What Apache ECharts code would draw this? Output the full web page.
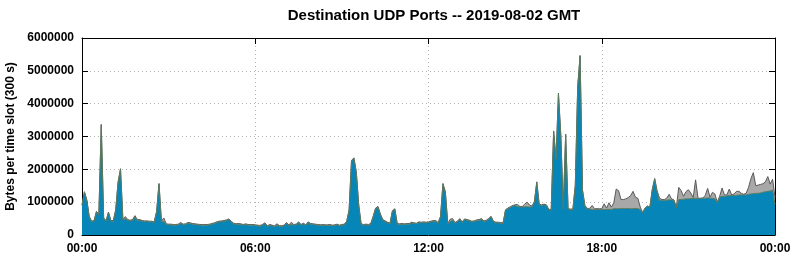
<!DOCTYPE html>
<html>
<head>
<meta charset="utf-8">
<script src="https://cdn.jsdelivr.net/npm/echarts@6/dist/echarts.min.js"></script>
<style>html,body{margin:0;padding:0;background:#fff}#c{width:795px;height:260px}</style>
</head>
<body>
<div id="c"></div>
<script>
// values in millions of bytes per 5-minute slot, slot i = i*5 minutes after 00:00
const SCALE = 1000000;
const slotMinutes = 5;
const xTicks = ['00:00', '06:00', '12:00', '18:00', '00:00'];
const yTicks = [0, 1000000, 2000000, 3000000, 4000000, 5000000, 6000000];

const mainPort = [
  0.90,1.30,1.05,0.55,0.40,0.42,0.70,0.60,3.35,0.50,0.42,0.68,0.42,
  0.42,0.75,1.60,2.00,0.45,0.50,0.45,0.43,0.45,0.55,0.45,0.45,
  0.42,0.41,0.41,0.40,0.40,0.38,0.70,1.55,0.40,0.42,0.32,0.31,
  0.31,0.30,0.30,0.31,0.36,0.31,0.32,0.36,0.35,0.33,0.32,0.31,
  0.30,0.30,0.30,0.30,0.31,0.33,0.35,0.38,0.40,0.41,0.42,0.44,
  0.47,0.40,0.34,0.32,0.33,0.32,0.30,0.32,0.30,0.30,0.30,0.29,
  0.28,0.27,0.30,0.35,0.26,0.30,0.28,0.26,0.30,0.27,0.26,0.28,
  0.36,0.28,0.33,0.30,0.31,0.38,0.30,0.34,0.29,0.38,0.33,0.32,
  0.31,0.30,0.29,0.30,0.29,0.29,0.30,0.28,0.29,0.31,0.28,0.30,
  0.31,0.40,0.75,2.25,2.33,1.90,0.90,0.32,0.30,0.31,0.30,0.33,
  0.55,0.80,0.85,0.62,0.45,0.41,0.37,0.34,0.72,0.78,0.33,0.32,
  0.33,0.32,0.33,0.33,0.37,0.35,0.34,0.38,0.37,0.38,0.37,0.38,
  0.40,0.42,0.42,0.36,0.55,1.55,1.30,0.33,0.42,0.44,0.36,0.40,
  0.48,0.38,0.47,0.45,0.43,0.40,0.41,0.44,0.43,0.48,0.41,0.43,
  0.48,0.55,0.40,0.37,0.37,0.36,0.35,0.75,0.80,0.84,0.88,0.90,
  0.87,0.85,0.85,0.86,0.86,0.85,0.86,1.00,1.60,0.92,0.90,0.92,
  0.90,0.76,0.76,3.15,2.30,4.30,3.00,0.78,3.05,0.78,0.77,0.77,
  1.50,4.50,5.45,1.35,0.88,0.79,0.79,0.77,0.77,0.78,0.78,0.78,
  0.77,0.78,0.78,0.78,0.80,0.80,0.80,0.80,0.81,0.80,0.81,0.80,
  0.80,0.81,0.80,0.78,0.68,0.82,0.88,0.85,1.37,1.70,1.30,1.05,
  1.06,1.06,1.06,1.07,1.07,1.05,0.82,1.08,1.08,1.09,1.10,1.10,
  1.11,1.11,1.12,1.10,1.11,1.12,1.12,1.13,1.12,1.12,1.10,0.98,
  1.15,1.18,1.18,1.19,1.20,1.20,1.20,1.21,1.22,1.22,1.22,1.22,
  1.24,1.25,1.26,1.27,1.27,1.28,1.30,1.32,1.33,1.34,1.37,0.93
];

const otherPorts = [
  0.02,0.02,0.02,0.02,0.02,0.02,0.02,0.02,0.02,0.02,0.02,0.02,0.02,
  0.02,0.02,0.02,0.02,0.02,0.06,0.02,0.02,0.02,0.04,0.02,0.02,
  0.02,0.02,0.02,0.02,0.02,0.02,0.02,0.02,0.02,0.10,0.02,0.02,
  0.02,0.02,0.02,0.02,0.02,0.02,0.02,0.02,0.02,0.02,0.02,0.02,
  0.02,0.02,0.02,0.02,0.02,0.02,0.02,0.02,0.02,0.02,0.02,0.02,
  0.02,0.02,0.02,0.02,0.02,0.02,0.02,0.02,0.02,0.02,0.02,0.02,
  0.02,0.02,0.02,0.02,0.02,0.02,0.02,0.02,0.04,0.02,0.02,0.02,
  0.02,0.02,0.06,0.02,0.02,0.02,0.02,0.02,0.02,0.02,0.02,0.02,
  0.02,0.02,0.02,0.02,0.02,0.02,0.02,0.02,0.02,0.02,0.02,0.02,
  0.02,0.02,0.02,0.02,0.02,0.02,0.02,0.02,0.02,0.02,0.02,0.02,
  0.02,0.02,0.02,0.02,0.02,0.02,0.02,0.02,0.02,0.02,0.02,0.02,
  0.02,0.02,0.02,0.02,0.02,0.02,0.02,0.02,0.02,0.02,0.02,0.02,
  0.02,0.02,0.02,0.02,0.02,0.02,0.02,0.02,0.06,0.06,0.02,0.02,
  0.02,0.02,0.02,0.02,0.02,0.02,0.02,0.02,0.04,0.02,0.02,0.02,
  0.02,0.02,0.02,0.02,0.02,0.02,0.02,0.02,0.02,0.02,0.02,0.02,
  0.06,0.02,0.02,0.08,0.14,0.06,0.02,0.02,0.02,0.02,0.02,0.02,
  0.02,0.02,0.02,0.02,0.02,0.02,0.02,0.02,0.02,0.02,0.02,0.02,
  0.02,0.02,0.02,0.02,0.02,0.02,0.02,0.13,0.03,0.02,0.02,0.02,
  0.18,0.04,0.20,0.07,0.18,0.60,0.55,0.28,0.27,0.30,0.33,0.40,
  0.53,0.34,0.32,0.07,0.00,0.00,0.00,0.00,0.03,0.02,0.05,0.07,
  0.02,0.02,0.06,0.17,0.03,0.02,0.03,0.37,0.27,0.09,0.22,0.28,
  0.17,0.03,0.56,0.02,0.01,0.01,0.08,0.29,0.03,0.18,0.15,0.02,
  0.03,0.25,0.04,0.03,0.20,0.02,0.05,0.12,0.11,0.05,0.02,0.05,
  0.21,0.47,0.64,0.23,0.25,0.26,0.26,0.30,0.45,0.21,0.33,0.22
];

const slots = mainPort.map((_, i) => i * slotMinutes);
const ticksEvery = 360 / slotMinutes;
const isTick = idx => idx % ticksEvery === 0;
const FONT = 'Liberation Sans';

const chart = echarts.init(document.getElementById('c'), null, {renderer: 'canvas'});
const tickStyle = {show: true, inside: true, length: 6, interval: isTick, alignWithLabel: true, lineStyle: {color: '#000', width: 1}};
const yTickStyle = {show: true, inside: true, length: 6, lineStyle: {color: '#000', width: 1}};
const lineStyle = {show: true, onZero: false, lineStyle: {color: '#000', width: 1}};
const splitStyle = {show: true, lineStyle: {color: '#b4b4b4', width: 1, type: [1, 3]}};

chart.setOption({
  animation: false,
  backgroundColor: '#fff',
  title: {
    text: 'Destination UDP Ports -- 2019-08-02 GMT',
    left: 429, top: 3, textAlign: 'center',
    textStyle: {fontFamily: FONT, fontWeight: 'bold', fontSize: 15, color: '#000'}
  },
  grid: {left: 82, right: 20, top: 38, bottom: 25, containLabel: false, outerBoundsMode: 'none'},
  xAxis: [{
    type: 'category', data: slots, boundaryGap: false,
    axisLine: lineStyle, axisTick: tickStyle,
    splitLine: Object.assign({interval: isTick}, splitStyle),
    axisLabel: {
      interval: isTick, formatter: (v, idx) => xTicks[Math.round(idx / ticksEvery)],
      alignMinLabel: 'center', alignMaxLabel: 'center', hideOverlap: false,
      fontFamily: FONT, fontWeight: 'bold', fontSize: 12, color: '#000', margin: 8
    }
  }, {
    type: 'category', data: slots, boundaryGap: false, position: 'top',
    axisLine: lineStyle, axisTick: tickStyle, splitLine: {show: false}, axisLabel: {show: false}
  }],
  yAxis: [{
    type: 'value', min: yTicks[0], max: yTicks[yTicks.length - 1], interval: 1000000,
    name: 'Bytes per time slot (300 s)', nameLocation: 'middle', nameGap: 63,
    nameTextStyle: {fontFamily: FONT, fontWeight: 'bold', fontSize: 12, color: '#000'},
    axisLine: lineStyle, axisTick: yTickStyle, splitLine: splitStyle,
    axisLabel: {formatter: v => String(v), fontFamily: FONT, fontWeight: 'bold', fontSize: 12, color: '#000', margin: 8}
  }, {
    type: 'value', position: 'right', min: 0, max: 6000000, interval: 1000000,
    axisLine: lineStyle, axisTick: yTickStyle, splitLine: {show: false}, axisLabel: {show: false}
  }],
  series: [{
    name: 'main', type: 'line', stack: 'all', data: mainPort.map(v => v * SCALE),
    symbol: 'none', smooth: false,
    lineStyle: {color: '#5d7a5e', width: 1},
    areaStyle: {color: '#0585b8', opacity: 1},
    z: 3
  }, {
    name: 'other', type: 'line', stack: 'all', data: otherPorts.map(v => v * SCALE),
    symbol: 'none', smooth: false,
    lineStyle: {color: '#5a5a5a', width: 1},
    areaStyle: {color: '#a8a8a8', opacity: 1},
    z: 2
  }]
});
</script>
</body>
</html>
